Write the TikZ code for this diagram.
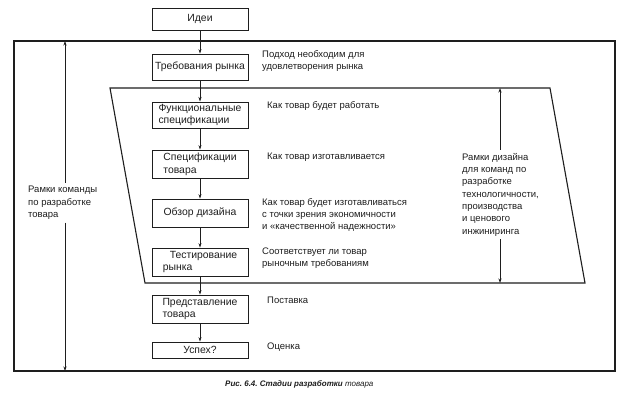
\documentclass[tikz,border=0pt]{standalone}
\usepackage{fontspec}
\setmainfont{Liberation Sans}
\usetikzlibrary{arrows.meta}
\newcommand\dfont{\fontsize{9.5}{12.3}\selectfont}
\newcommand\bfont{\fontsize{10.4}{12.8}\selectfont}
\definecolor{ink}{RGB}{30,30,30}
\frenchspacing
\begin{document}
\begin{tikzpicture}[x=1pt,y=-1pt,
  box/.style={draw=ink,line width=0.8pt,minimum width=96pt,inner sep=2pt,font=\bfont,align=left,text=ink},
  lbl/.style={inner sep=0pt,font=\dfont,align=left,anchor=west,text=ink},
  arr/.style={-{Stealth[length=4.5pt,width=3pt]},line width=0.7pt,draw=ink},
  frame/.style={draw=ink,line width=1.1pt}]
\useasboundingbox (0,0) rectangle (624,417);
\fill[white] (0,0) rectangle (624,417);
% frames
\draw[frame] (14,41) rectangle (615,371);
\draw[frame] (110,88) -- (550,88) -- (585,283) -- (145,283) -- cycle;
% boxes
\node[box,minimum height=22pt] (ideas) at (200,19) {Идеи};
\node[box,minimum height=26pt] (req) at (200,67) {Требования рынка};
\node[box,minimum height=26pt] (func) at (200,115) {Функциональные\\спецификации};
\node[box,minimum height=28pt] (spec) at (200,164) {Спецификации\\товара};
\node[box,minimum height=28pt] (rev) at (200,213) {Обзор дизайна};
\node[box,minimum height=28pt] (test) at (200,262) {\hspace*{7pt}Тестирование\\рынка};
\node[box,minimum height=28pt] (pres) at (200,309) {Представление\\товара};
\node[box,minimum height=16pt] (succ) at (200,350) {Успех?};
% flow arrows
\draw[arr] (ideas) -- (req);
\draw[arr] (req) -- (func);
\draw[arr] (func) -- (spec);
\draw[arr] (spec) -- (rev);
\draw[arr] (rev) -- (test);
\draw[arr] (test) -- (pres);
\draw[arr] (pres) -- (succ);
% side labels
\node[lbl] (l1) at (262,61) {Подход необходим для\\удовлетворения рынка};
\node[lbl] (l2) at (267,106) {Как товар будет работать};
\node[lbl] (l3) at (267,157) {Как товар изготавливается};
\node[lbl] (l4) at (262,215) {Как товар будет изготавливаться\\с точки зрения экономичности\\и «качественной надежности»};
\node[lbl] (l5) at (262,258) {Соответствует ли товар\\рыночным требованиям};
\node[lbl] (l6) at (267,300) {Поставка};
\node[lbl] (l7) at (267,347) {Оценка};
% left span
\coordinate (lt) at (65,41);
\coordinate (lb) at (65,371);
\node[lbl,anchor=north west,inner ysep=3pt] (lteam) at (28,183) {Рамки команды\\по разработке\\товара};
\draw[arr] (lteam.north -| lt) -- (lt);
\draw[arr] (lteam.south -| lt) -- (lb);
% right span
\coordinate (rt) at (500,88);
\coordinate (rb) at (500,283);
\node[lbl,anchor=north west,inner ysep=3pt] (rdes) at (462,150) {Рамки дизайна\\для команд по\\разработке\\технологичности,\\производства\\и ценового\\инжиниринга};
\draw[arr] (rdes.north -| rt) -- (rt);
\draw[arr] (rdes.south -| rt) -- (rb);
% caption
\node[inner sep=0pt,anchor=west,font=\fontsize{8}{10}\selectfont\bfseries\itshape,text=ink] (cap) at (225,384) {Рис. 6.4. Стадии разработки {\mdseries товара}};
\end{tikzpicture}
\end{document}
